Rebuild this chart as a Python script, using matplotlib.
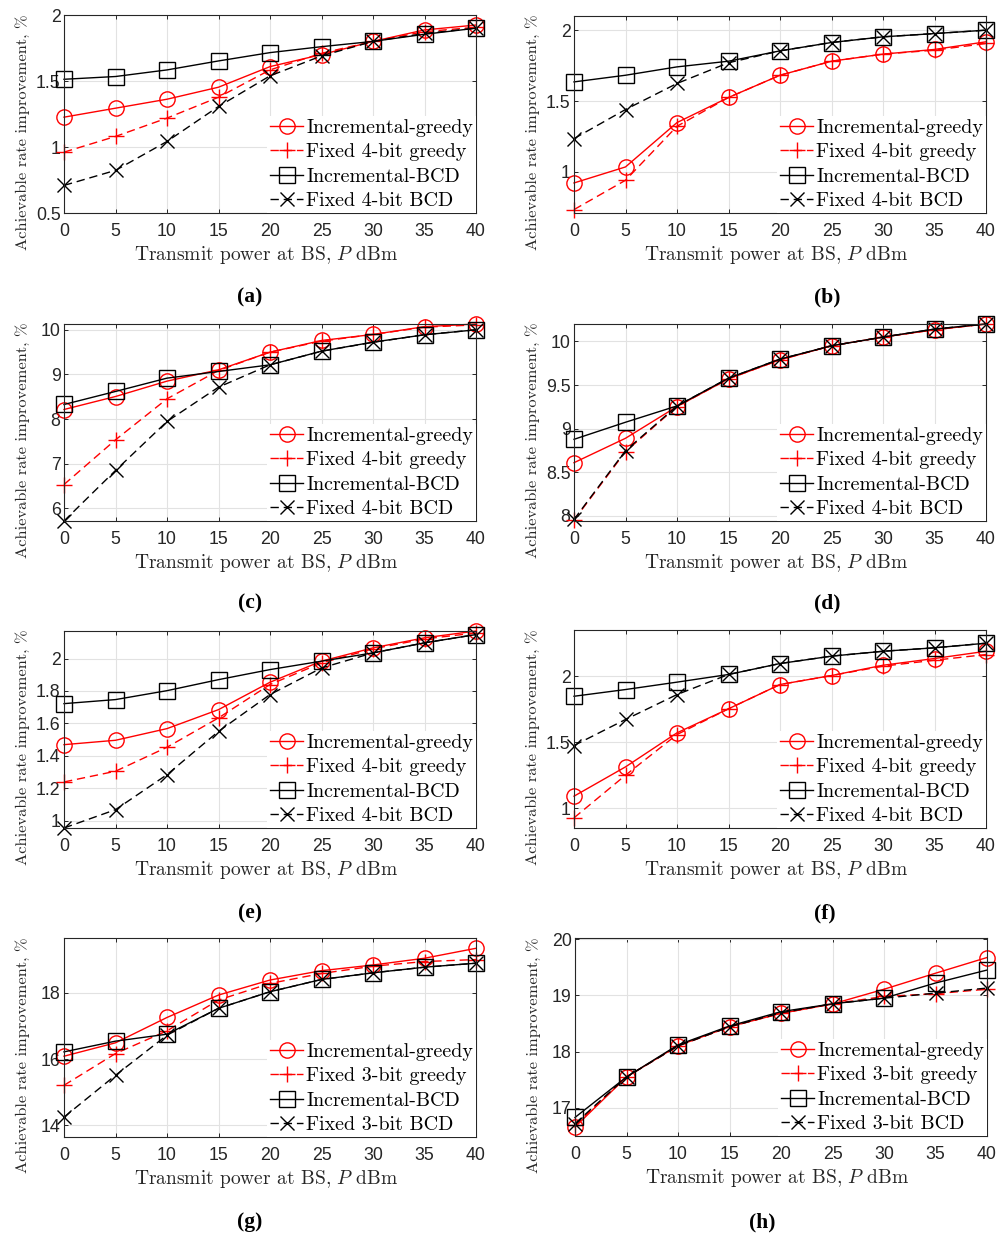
import matplotlib.pyplot as plt
from matplotlib.ticker import FormatStrFormatter

plt.rcParams['font.family'] = 'Liberation Sans'
plt.rcParams['mathtext.fontset'] = 'cm'

power = [0, 5, 10, 15, 20, 25, 30, 35, 40]

# (a)
a_inc_greedy = [1.226, 1.294, 1.362, 1.453, 1.609, 1.70, 1.80, 1.887, 1.924]
a_fix_greedy = [0.961, 1.08, 1.219, 1.377, 1.584, 1.71, 1.80, 1.874, 1.907]
a_inc_bcd = [1.513, 1.534, 1.584, 1.652, 1.715, 1.76, 1.80, 1.854, 1.90]
a_fix_bcd = [0.709, 0.823, 1.042, 1.307, 1.539, 1.69, 1.80, 1.86, 1.90]
# (b)
b_inc_greedy = [0.922, 1.035, 1.348, 1.525, 1.682, 1.781, 1.831, 1.864, 1.918]
b_fix_greedy = [0.734, 0.941, 1.322, 1.525, 1.682, 1.781, 1.831, 1.859, 1.906]
b_inc_bcd = [1.635, 1.682, 1.741, 1.781, 1.854, 1.913, 1.953, 1.976, 2.0]
b_fix_bcd = [1.235, 1.44, 1.624, 1.77, 1.854, 1.913, 1.953, 1.976, 2.0]
# (c)
c_inc_greedy = [8.216, 8.507, 8.851, 9.104, 9.5, 9.761, 9.896, 10.07, 10.13]
c_fix_greedy = [6.537, 7.537, 8.455, 9.09, 9.5, 9.746, 9.896, 10.06, 10.11]
c_inc_bcd = [8.328, 8.62, 8.918, 9.067, 9.216, 9.522, 9.724, 9.888, 10.0]
c_fix_bcd = [5.72, 6.851, 7.948, 8.716, 9.216, 9.52, 9.72, 9.89, 10.0]
# (d)
d_inc_greedy = [8.609, 8.889, 9.253, 9.571, 9.789, 9.95, 10.05, 10.134, 10.2]
d_fix_greedy = [7.95, 8.736, 9.253, 9.571, 9.789, 9.95, 10.05, 10.134, 10.2]
d_inc_bcd = [8.877, 9.073, 9.26, 9.579, 9.797, 9.95, 10.05, 10.142, 10.2]
d_fix_bcd = [7.958, 8.747, 9.26, 9.579, 9.797, 9.95, 10.05, 10.142, 10.2]
# (e)
e_inc_greedy = [1.469, 1.496, 1.568, 1.685, 1.854, 1.984, 2.066, 2.128, 2.17]
e_fix_greedy = [1.239, 1.305, 1.453, 1.634, 1.84, 1.973, 2.06, 2.121, 2.158]
e_inc_bcd = [1.722, 1.747, 1.802, 1.87, 1.932, 1.984, 2.035, 2.097, 2.148]
e_fix_bcd = [0.955, 1.068, 1.284, 1.551, 1.778, 1.942, 2.035, 2.097, 2.148]
# (f)
f_inc_greedy = [1.091, 1.313, 1.571, 1.753, 1.937, 2.005, 2.083, 2.134, 2.189]
f_fix_greedy = [0.927, 1.25, 1.558, 1.753, 1.937, 2.005, 2.076, 2.121, 2.164]
f_inc_bcd = [1.848, 1.899, 1.955, 2.013, 2.096, 2.152, 2.189, 2.215, 2.25]
f_fix_bcd = [1.475, 1.672, 1.861, 2.013, 2.096, 2.152, 2.189, 2.215, 2.25]
# (g)
g_inc_greedy = [16.086, 16.49, 17.254, 17.93, 18.383, 18.665, 18.836, 19.04, 19.34]
g_fix_greedy = [15.209, 16.166, 16.85, 17.78, 18.28, 18.58, 18.8, 18.94, 19.0]
g_inc_bcd = [16.217, 16.54, 16.75, 17.53, 18.03, 18.4, 18.6, 18.77, 18.89]
g_fix_bcd = [14.25, 15.51, 16.72, 17.53, 18.03, 18.4, 18.6, 18.77, 18.89]
# (h)
h_inc_greedy = [16.66, 17.55, 18.105, 18.443, 18.68, 18.847, 19.109, 19.394, 19.673]
h_fix_greedy = [16.69, 17.55, 18.1, 18.44, 18.68, 18.85, 18.98, 19.03, 19.11]
h_inc_bcd = [16.83, 17.55, 18.12, 18.455, 18.71, 18.85, 18.95, 19.22, 19.45]
h_fix_bcd = [16.72, 17.55, 18.1, 18.44, 18.69, 18.85, 18.95, 19.04, 19.13]

bits = [4, 4, 4, 4, 4, 4, 3, 3]
panel_names = ['(a)', '(b)', '(c)', '(d)', '(e)', '(f)', '(g)', '(h)']
yticks = [[0.5, 1, 1.5, 2], [1, 1.5, 2], [6, 7, 8, 9, 10], [8, 8.5, 9, 9.5, 10],
          [1, 1.2, 1.4, 1.6, 1.8, 2], [1, 1.5, 2], [14, 16, 18], [17, 18, 19, 20]]

series = [
    (a_inc_greedy, a_fix_greedy, a_inc_bcd, a_fix_bcd),
    (b_inc_greedy, b_fix_greedy, b_inc_bcd, b_fix_bcd),
    (c_inc_greedy, c_fix_greedy, c_inc_bcd, c_fix_bcd),
    (d_inc_greedy, d_fix_greedy, d_inc_bcd, d_fix_bcd),
    (e_inc_greedy, e_fix_greedy, e_inc_bcd, e_fix_bcd),
    (f_inc_greedy, f_fix_greedy, f_inc_bcd, f_fix_bcd),
    (g_inc_greedy, g_fix_greedy, g_inc_bcd, g_fix_bcd),
    (h_inc_greedy, h_fix_greedy, h_inc_bcd, h_fix_bcd),
]

# layout (pixels on a 1005x1236 canvas)
W, H = 1005, 1236
ylims = [(0.5, 2.0), (0.71, 2.1), (5.72, 10.13), (7.94, 10.2),
         (0.955, 2.17), (0.85, 2.35), (13.65, 19.65), (16.5, 20.02)]
boxes = [(64, 15, 213), (574, 16, 213), (64, 324, 521), (574, 324, 521),
         (64, 631, 828), (574, 630, 828), (64, 938, 1137), (575, 938, 1136)]
label_pos = [(250, 297), (827, 297), (250, 603), (827, 603),
             (250, 913), (825, 913), (250, 1222), (762, 1222)]

TXT = '#262626'
SERIF = 'cmr10'

fig = plt.figure(figsize=(W / 100, H / 100), dpi=100)

for i in range(8):
    left, top, bottom = boxes[i]
    ax = fig.add_axes([left / W, 1 - bottom / H, 412 / W, (bottom - top) / H])
    inc_g, fix_g, inc_b, fix_b = series[i]

    ax.plot(power, inc_g, '-o', color='red', ms=11, mfc='none', mew=1.0, lw=1.0,
            clip_on=False, label='Incremental-greedy')
    ax.plot(power, fix_g, '--+', color='red', ms=12, mew=1.0, lw=1.0, dashes=(6, 3.5),
            clip_on=False, label=f'Fixed {bits[i]}-bit greedy')
    ax.plot(power, inc_b, '-s', color='black', ms=11.5, mfc='none', mew=1.0, lw=1.0,
            clip_on=False, label='Incremental-BCD')
    ax.plot(power, fix_b, '--x', color='black', ms=10, mew=1.0, lw=1.0, dashes=(6, 3.5),
            clip_on=False, label=f'Fixed {bits[i]}-bit BCD')

    ax.set_xlim(0, 40)
    ax.set_ylim(*ylims[i])
    ax.set_xticks(power)
    ax.set_yticks(yticks[i])
    ax.yaxis.set_major_formatter(FormatStrFormatter('%g'))
    ax.grid(True, color='#e2e2e2', lw=0.8)
    ax.set_axisbelow(True)
    ax.tick_params(direction='in', length=3, width=0.7, top=True, right=True,
                   labelsize=12.8, colors=TXT)
    ax.tick_params(axis='x', pad=7)
    ax.tick_params(axis='y', pad=2.5)
    for sp in ax.spines.values():
        sp.set_color(TXT)
        sp.set_linewidth(0.8)

    ax.text(0.49, -0.212, r'Transmit power at BS, $P$ dBm', transform=ax.transAxes,
            ha='center', va='center', fontsize=14, family=SERIF, color=TXT)
    ax.text(-0.0995, 0.41, 'Achievable rate improvement, %', transform=ax.transAxes,
            ha='center', va='center', rotation=90, fontsize=11.8, family=SERIF, color=TXT)

    leg = ax.legend(loc='lower right', bbox_to_anchor=(1.0, 0.0), borderaxespad=0,
                    prop={'family': SERIF, 'size': 14.4}, frameon=True, fancybox=False,
                    facecolor='white', edgecolor='none', framealpha=1,
                    handlelength=1.65, handletextpad=0.15, labelspacing=0.32,
                    borderpad=0.15)
    for t in leg.get_texts():
        t.set_color('black')

    lx, ly = label_pos[i]
    fig.text(lx / W, 1 - ly / H, panel_names[i], ha='center', va='center',
             fontsize=15.5, fontweight='bold', family='Liberation Serif', color='black')

fig.savefig('out.png', dpi=100)
